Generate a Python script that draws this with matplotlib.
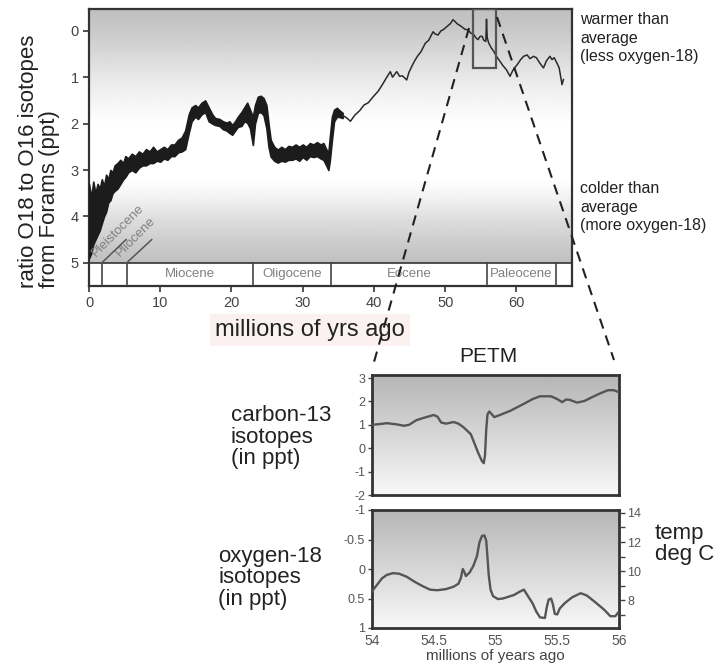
import matplotlib
matplotlib.use("Agg")
import matplotlib.pyplot as plt
from matplotlib.lines import Line2D
from matplotlib.patches import Rectangle
import numpy as np

plt.rcParams['font.family'] = ['Liberation Sans', 'DejaVu Sans']
plt.rcParams['axes.unicode_minus'] = False

W, H = 724, 672

# thick noisy part of the O18 record (age, upper edge, lower edge)
band_age = [0.0, 0.3, 0.6, 0.9, 1.2, 1.5, 1.8, 2.1, 2.4, 2.7, 3.0, 3.3, 3.6, 4.0, 4.4,
            4.8, 5.1, 5.5, 6.0, 6.5, 7.0, 7.5, 8.0, 8.5, 9.0, 9.5, 10.0, 10.5, 11.0,
            11.5, 12.0, 12.5, 13.0, 13.5, 14.0, 14.4, 14.9, 15.3, 15.8, 16.3, 16.8,
            17.3, 17.7, 18.3, 18.8, 19.3, 19.7, 20.1, 20.5, 20.9, 21.4, 21.8, 22.2,
            22.6, 23.0, 23.3, 23.7, 24.1, 24.5, 24.9, 25.2, 25.5, 26.0, 26.5, 27.0,
            27.5, 28.0, 28.5, 29.0, 29.5, 30.0, 30.5, 31.0, 31.5, 32.0, 32.5, 32.9,
            33.3, 33.6, 33.8, 34.1, 34.4, 34.8, 35.2, 35.6]
band_top = [3.3, 3.6, 3.25, 3.5, 3.3, 3.4, 3.2, 3.35, 3.1, 3.2, 3.0, 3.05, 2.9, 2.85, 2.78,
            2.85, 2.7, 2.75, 2.65, 2.7, 2.6, 2.65, 2.55, 2.6, 2.5, 2.6, 2.55, 2.5, 2.55,
            2.45, 2.45, 2.35, 2.3, 2.15, 1.8, 1.65, 1.6, 1.65, 1.55, 1.5, 1.65,
            1.8, 1.88, 1.9, 1.95, 1.98, 1.95, 2.03, 1.95, 1.85, 1.75, 1.65, 1.55,
            1.7, 1.85, 1.6, 1.42, 1.4, 1.45, 1.6, 2.0, 2.35, 2.5, 2.56, 2.5,
            2.55, 2.48, 2.5, 2.45, 2.5, 2.45, 2.5, 2.42, 2.45, 2.4, 2.45, 2.42,
            2.55, 2.63, 2.3, 1.85, 1.7, 1.66, 1.72, 1.77]
band_bot = [4.9, 4.8, 4.6, 4.5, 4.4, 4.3, 4.15, 4.0, 3.9, 3.7, 3.65, 3.5, 3.45, 3.4, 3.3,
            3.2, 3.15, 3.05, 3.0, 3.05, 2.95, 2.9, 2.9, 2.85, 2.85, 2.8, 2.82, 2.75, 2.78,
            2.7, 2.7, 2.62, 2.6, 2.55, 2.2, 1.95, 1.85, 1.9, 1.8, 1.75, 1.95,
            2.0, 2.03, 2.05, 2.12, 2.15, 2.2, 2.24, 2.15, 2.07, 2.05, 1.95, 1.98,
            2.1, 2.46, 2.0, 1.77, 1.75, 1.82, 2.1, 2.5, 2.71, 2.8, 2.84, 2.8,
            2.82, 2.78, 2.78, 2.75, 2.8, 2.72, 2.78, 2.7, 2.72, 2.7, 2.75, 2.78,
            2.9, 3.0, 2.8, 2.35, 1.95, 1.85, 1.86, 1.88]

# thin part of the O18 record (Eocene and Paleocene)
thin_age = [35.6, 36.2, 36.7, 37.3, 38.0, 38.6, 39.2, 39.9, 40.6, 41.3, 41.8, 42.3, 42.6,
            43.2, 43.6, 44.0, 44.6, 44.9, 45.3, 45.7, 46.1, 46.6, 47.2, 47.7, 48.3, 48.6,
            49.0, 49.4, 49.7, 50.3, 50.7, 51.1, 51.7, 52.3, 52.8, 53.2, 53.6, 54.0, 54.3,
            54.6, 54.9, 55.2, 55.4, 55.7, 55.8, 55.9, 56.1, 56.4, 56.8, 57.2, 57.7, 58.1,
            58.6, 59.1, 59.5, 60.1, 60.6, 61.0, 61.5, 61.9, 62.4, 62.8, 63.3, 63.8, 64.2,
            64.7, 65.0, 65.3, 65.7, 66.0, 66.4, 66.6]
thin_val = [1.82, 1.88, 1.95, 1.82, 1.72, 1.6, 1.55, 1.42, 1.3, 1.13, 1.0, 0.88, 1.0,
            0.88, 0.98, 0.97, 1.06, 0.9, 0.77, 0.65, 0.55, 0.45, 0.27, 0.2, 0.02, 0.07,
            0.09, 0.0, -0.02, -0.1, -0.15, -0.24, -0.15, -0.09, -0.03, -0.02, 0.05, 0.08, 0.15,
            0.19, 0.12, 0.12, 0.2, 0.23, -0.25, 0.15, 0.26, 0.35, 0.44, 0.55, 0.66, 0.75,
            0.84, 0.98, 0.85, 0.73, 0.62, 0.55, 0.52, 0.6, 0.55, 0.58, 0.7, 0.8, 0.65,
            0.55, 0.62, 0.58, 0.7, 0.8, 1.16, 1.05]

# geological epochs
epoch_edges = [1.8, 5.3, 23.0, 33.9, 55.8, 65.5]
epoch_names = ["Miocene", "Oligocene", "Eocene", "Paleocene"]
epoch_mid = [14.2, 28.5, 44.9, 60.6]

# PETM detail, carbon-13
c13_age = [54.0, 54.06, 54.12, 54.2, 54.26, 54.3, 54.36, 54.42, 54.5, 54.53, 54.56,
           54.6, 54.66, 54.7, 54.74, 54.8, 54.83, 54.86, 54.89, 54.905, 54.915, 54.925,
           54.935, 54.95, 54.97, 54.99, 55.04, 55.12, 55.23, 55.3, 55.36, 55.45, 55.5,
           55.54, 55.57, 55.6, 55.66, 55.72, 55.77, 55.85, 55.91, 55.96, 56.0]
c13_val = [1.0, 1.03, 1.07, 1.02, 0.96, 1.0, 1.2, 1.3, 1.42, 1.35, 1.1,
           1.05, 1.12, 1.05, 0.9, 0.6, 0.2, -0.2, -0.55, -0.64, -0.3, 0.8,
           1.45, 1.57, 1.45, 1.33, 1.43, 1.6, 1.9, 2.1, 2.22, 2.22, 2.1,
           1.97, 2.08, 2.07, 1.95, 2.02, 2.15, 2.35, 2.48, 2.48, 2.39]

# PETM detail, oxygen-18
o18_age = [54.0, 54.04, 54.08, 54.12, 54.17, 54.22, 54.28, 54.34, 54.4, 54.47, 54.53,
           54.6, 54.66, 54.7, 54.72, 54.735, 54.75, 54.76, 54.79, 54.82, 54.85, 54.87,
           54.89, 54.91, 54.925, 54.935, 54.945, 54.96, 54.98, 55.02, 55.06, 55.15,
           55.2, 55.23, 55.26, 55.3, 55.33, 55.36, 55.4, 55.415, 55.43, 55.45, 55.465,
           55.48, 55.5, 55.52, 55.56, 55.62, 55.69, 55.74, 55.8, 55.88, 55.93, 55.97, 56.0]
o18_val = [0.38, 0.27, 0.16, 0.1, 0.07, 0.08, 0.13, 0.21, 0.28, 0.35, 0.36,
           0.34, 0.3, 0.25, 0.15, 0.0, 0.06, 0.12, 0.06, -0.05, -0.22, -0.45,
           -0.56, -0.57, -0.48, -0.2, 0.1, 0.35, 0.46, 0.51, 0.5, 0.44,
           0.38, 0.35, 0.45, 0.58, 0.72, 0.82, 0.83, 0.65, 0.52, 0.5, 0.6,
           0.76, 0.77, 0.67, 0.58, 0.48, 0.41, 0.45, 0.55, 0.69, 0.8, 0.8, 0.72]


def fx(px):
    return px / W


def fy(py):
    return 1 - py / H


fig = plt.figure(figsize=(7.24, 6.72), dpi=100)

# ---- main panel ----
ax = fig.add_axes([fx(89), fy(286), fx(572) - fx(89), fy(9) - fy(286)])
XMAX = 67.8
yy = np.linspace(-0.47, 5.0, 200)
shade = np.interp(yy, [-0.47, 0.0, 0.5, 1.0, 1.5, 2.0, 3.2, 3.6, 4.0, 4.5, 5.0],
                  [0.75, 0.79, 0.85, 0.91, 0.96, 1.0, 1.0, 0.95, 0.88, 0.81, 0.75])
ax.imshow(shade[:, None], cmap='gray', vmin=0, vmax=1, aspect='auto',
          extent=(0, XMAX, 5.0, -0.47), origin='upper', zorder=0)

ax.fill_between(band_age, band_top, band_bot, color='#1c1c1c', lw=1.2,
                edgecolor='#1c1c1c', zorder=3)
ax.plot(thin_age, thin_val, color='#2a2a2a', lw=1.1, zorder=3)

ax.add_patch(Rectangle((53.9, -0.47), 57.2 - 53.9, 0.8 + 0.47, fill=False,
                       edgecolor='#555555', lw=1.6, zorder=4))

# epoch bar
ax.axhline(5.0, color='#333333', lw=1.2, zorder=4)
for e in epoch_edges:
    ax.plot([e, e], [5.0, 5.5], color='#444444', lw=1.2, zorder=4)
for name, m in zip(epoch_names, epoch_mid):
    ax.text(m, 5.25, name, ha='center', va='center', fontsize=9.5, color='#808080')
ax.plot([1.8, 5.2], [5.0, 4.5], color='#555555', lw=1.1, zorder=4)
ax.plot([5.3, 8.8], [5.0, 4.5], color='#555555', lw=1.1, zorder=4)
ax.text(1.2, 4.93, "Pleistocene", rotation=45, ha='left', va='bottom',
        fontsize=9.5, color='#808080', rotation_mode='anchor')
ax.text(4.6, 4.93, "Pliocene", rotation=45, ha='left', va='bottom',
        fontsize=9.5, color='#808080', rotation_mode='anchor')

ax.set_xlim(0, XMAX)
ax.set_ylim(5.5, -0.47)
ax.set_xticks([0, 10, 20, 30, 40, 50, 60])
ax.set_yticks([0, 1, 2, 3, 4, 5])
ax.tick_params(direction='out', length=4, width=1.2, labelsize=10.5,
               labelcolor='#444444', color='#333333')
for s in ax.spines.values():
    s.set_linewidth(1.6)
    s.set_color('#333333')

fig.text(fx(39), fy(288), "ratio O18 to O16 isotopes\nfrom Forams (ppt)", rotation=90,
         ha='center', va='bottom', multialignment='left', fontsize=16, color='#222222',
         linespacing=1.0)
fig.text(fx(310), fy(330), "millions of yrs ago", ha='center', va='center', fontsize=17,
         color='#222222',
         bbox=dict(boxstyle='square,pad=0.2', facecolor='#fcf1f1', edgecolor='none'))
fig.text(fx(580), fy(12), "warmer than\naverage\n(less oxygen-18)", ha='left', va='top',
         fontsize=11.5, color='#222222', linespacing=1.3)
fig.text(fx(580), fy(181), "colder than\naverage\n(more oxygen-18)", ha='left', va='top',
         fontsize=11.5, color='#222222', linespacing=1.3)

# ---- PETM inset ----
ax1 = fig.add_axes([fx(372), fy(495), fx(619) - fx(372), fy(375) - fy(495)])
ax2 = fig.add_axes([fx(372), fy(628), fx(619) - fx(372), fy(510) - fy(628)])
grad = np.linspace(0.71, 0.97, 100)
for a in (ax1, ax2):
    a.imshow(grad[:, None], cmap='gray', vmin=0, vmax=1, aspect='auto',
             extent=(0, 1, 0, 1), transform=a.transAxes, origin='upper', zorder=0)
    for s in a.spines.values():
        s.set_linewidth(2.0)
        s.set_color('#333333')
    a.tick_params(direction='out', length=3, width=1, labelsize=9, labelcolor='#555555',
                  color='#444444', pad=2)

ax1.plot(c13_age, c13_val, color='#555555', lw=1.7, zorder=3, solid_joinstyle='round')
ax1.set_xlim(54, 56)
ax1.set_ylim(-2, 3.13)
ax1.set_yticks([-2, -1, 0, 1, 2, 3])
ax1.set_xticks([])

ax2.plot(o18_age, o18_val, color='#555555', lw=1.7, zorder=3, solid_joinstyle='round')
ax2.set_xlim(54, 56)
ax2.set_ylim(1, -1)
ax2.set_yticks([1, 0.5, 0, -0.5, -1])
ax2.set_yticklabels(['1', '0.5', '0', '-0.5', '-1'])
ax2.set_xticks([54, 54.5, 55, 55.5, 56])
ax2.set_xticklabels(['54', '54.5', '55', '55.5', '56'])
ax2.tick_params(axis='x', length=0, labelsize=10, pad=4)
ax2.set_xlabel("millions of years ago", fontsize=11, color='#444444', labelpad=1)

axt = ax2.twinx()
axt.set_ylim(6.1, 14.2)
axt.set_yticks([8, 10, 12, 14])
axt.set_yticks([7, 9, 11, 13], minor=True)
axt.tick_params(which='both', direction='out', length=4, width=1, labelsize=9,
                labelcolor='#555555', color='#444444', pad=2)
for s in axt.spines.values():
    s.set_visible(False)

fig.text(fx(488), fy(357), "PETM", ha='center', va='center', fontsize=15, color='#222222')
fig.text(fx(231), fy(437), "carbon-13\nisotopes\n(in ppt)", ha='left', va='center',
         fontsize=16, color='#222222', linespacing=1.05)
fig.text(fx(218), fy(578), "oxygen-18\nisotopes\n(in ppt)", ha='left', va='center',
         fontsize=16, color='#222222', linespacing=1.05)
fig.text(fx(655), fy(544), "temp\ndeg C", ha='left', va='center', fontsize=16,
         color='#222222', linespacing=1.05)

# dashed zoom lines
for (x0, y0), (x1, y1) in [((469, 28), (374, 362)), ((497, 17), (614, 360))]:
    fig.add_artist(Line2D([fx(x0), fx(x1)], [fy(y0), fy(y1)], transform=fig.transFigure,
                          color='#222222', lw=1.5, dashes=(5, 3.5), zorder=10))

fig.savefig("out.png", dpi=100, facecolor='white')
